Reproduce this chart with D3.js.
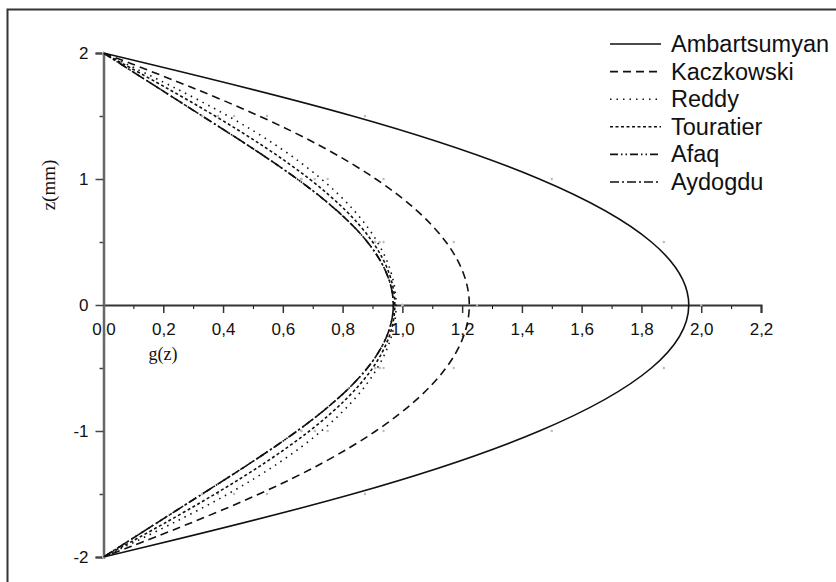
<!DOCTYPE html>
<html>
<head>
<meta charset="utf-8">
<script src="https://cdn.jsdelivr.net/npm/d3@7"></script>
<style>
  body { margin: 0; background: #fff; }
  text { font-family: "Liberation Sans", Arial, sans-serif; fill: #111; }
  .title { font-family: "Liberation Serif", "Times New Roman", serif; }
</style>
</head>
<body>
<div id="chart"></div>
<script>
var zValues = [2, 1.5, 1, 0.5, 0, -0.5, -1, -1.5, -2];
var ambartsumyan = [0, 0.875, 1.5, 1.875, 2.0, 1.875, 1.5, 0.875, 0];
var kaczkowski = [0, 0.547, 0.937, 1.172, 1.25, 1.172, 0.937, 0.547, 0];
var reddy = [0, 0.437, 0.75, 0.937, 1.0, 0.937, 0.75, 0.437, 0];
var touratier = [0, 0.383, 0.707, 0.924, 1.0, 0.924, 0.707, 0.383, 0];
var afaq = [0, 0.33, 0.662, 0.909, 1.0, 0.909, 0.662, 0.33, 0];
var aydogdu = [0, 0.33, 0.662, 0.909, 1.0, 0.909, 0.662, 0.33, 0];

var seriesNames = ["Ambartsumyan", "Kaczkowski", "Reddy", "Touratier", "Afaq", "Aydogdu"];
var seriesValues = [ambartsumyan, kaczkowski, reddy, touratier, afaq, aydogdu];
var dashes = ["none", "8,5", "1.5,5", "3,2.5", "8,3,1.5,3,1.5,3", "9,3,2,3"];

var xTicks = [0, 0.2, 0.4, 0.6, 0.8, 1.0, 1.2, 1.4, 1.6, 1.8, 2.0, 2.2];
var yTicks = [-2, -1, 0, 1, 2];

var W = 836, H = 582;
var svg = d3.select("#chart")
  .append("svg")
  .attr("width", W)
  .attr("height", H);

/* outer frame */
svg.append("rect")
  .attr("x", 7.5).attr("y", 9.5)
  .attr("width", 840).attr("height", 600)
  .attr("fill", "none")
  .attr("stroke", "#333")
  .attr("stroke-width", 2);

var x = d3.scaleLinear().domain([0, 2.2]).range([103.5, 761]);
var y = d3.scaleLinear().domain([-2, 2]).range([557, 53]);
var fmt = function(d) { return d3.format(".1f")(d).replace(".", ","); };

/* x axis through z = 0 */
var gx = svg.append("g")
  .attr("transform", "translate(0," + y(0) + ")");
gx.append("g")
  .call(d3.axisBottom(x).tickValues(d3.range(0.1, 2.2, 0.2)).tickSize(4).tickFormat(""))
  .call(function(g) { g.select(".domain").remove(); });
gx.append("g")
  .call(d3.axisBottom(x).tickValues(xTicks).tickSize(8).tickPadding(10).tickFormat(fmt))
  .call(function(g) {
    g.select(".domain").attr("stroke", "#333").attr("stroke-width", 2);
    g.selectAll(".tick line").attr("stroke", "#333").attr("stroke-width", 1.5);
    g.selectAll("text").attr("font-size", 17).attr("fill", "#222");
  });

/* y axis at g = 0 */
var gy = svg.append("g")
  .attr("transform", "translate(" + x(0) + ",0)");
gy.append("g")
  .call(d3.axisLeft(y).tickValues([-1.5, -0.5, 0.5, 1.5]).tickSize(4).tickFormat(""))
  .call(function(g) { g.select(".domain").remove(); });
gy.append("g")
  .call(d3.axisLeft(y).tickValues(yTicks).tickSize(8).tickPadding(7)
    .tickFormat(function(d) { return String(d); }))
  .call(function(g) {
    g.select(".domain").attr("stroke", "#666").attr("stroke-width", 2.5);
    g.selectAll("text").attr("font-size", 17).attr("fill", "#222");
  });
gy.selectAll(".tick line").attr("stroke", "#444").attr("stroke-width", 1.5);

/* axis titles */
svg.append("text")
  .attr("class", "title")
  .attr("transform", "translate(55,185) rotate(-90)")
  .attr("text-anchor", "middle")
  .attr("font-size", 19)
  .text("z(mm)");
svg.append("text")
  .attr("class", "title")
  .attr("x", 163).attr("y", 360)
  .attr("text-anchor", "middle")
  .attr("font-size", 18)
  .text("g(z)");

/* curves */
var line = d3.line()
  .x(function(d) { return x(d[0]); })
  .y(function(d) { return y(d[1]); })
  .curve(d3.curveBasis);

seriesValues.forEach(function(vals, i) {
  var pts = vals.map(function(v, j) { return [v, zValues[j]]; });
  svg.append("g")
    .selectAll("circle")
    .data(pts)
    .enter()
    .append("circle")
    .attr("cx", function(d) { return x(d[0]); })
    .attr("cy", function(d) { return y(d[1]); })
    .attr("r", 1.2)
    .attr("fill", "#bbb");
  svg.append("path")
    .datum(pts)
    .attr("d", line)
    .attr("fill", "none")
    .attr("stroke", "#111")
    .attr("stroke-width", 1.6)
    .attr("stroke-dasharray", dashes[i]);
});

/* legend */
var legend = svg.append("g");
seriesNames.forEach(function(name, i) {
  var ly = 44 + i * 27.6;
  legend.append("line")
    .attr("x1", 610).attr("x2", 661)
    .attr("y1", ly).attr("y2", ly)
    .attr("stroke", "#111")
    .attr("stroke-width", 1.6)
    .attr("stroke-dasharray", dashes[i]);
  legend.append("text")
    .attr("x", 671).attr("y", ly + 8)
    .attr("font-size", 23.5)
    .text(name);
});
</script>
</body>
</html>
